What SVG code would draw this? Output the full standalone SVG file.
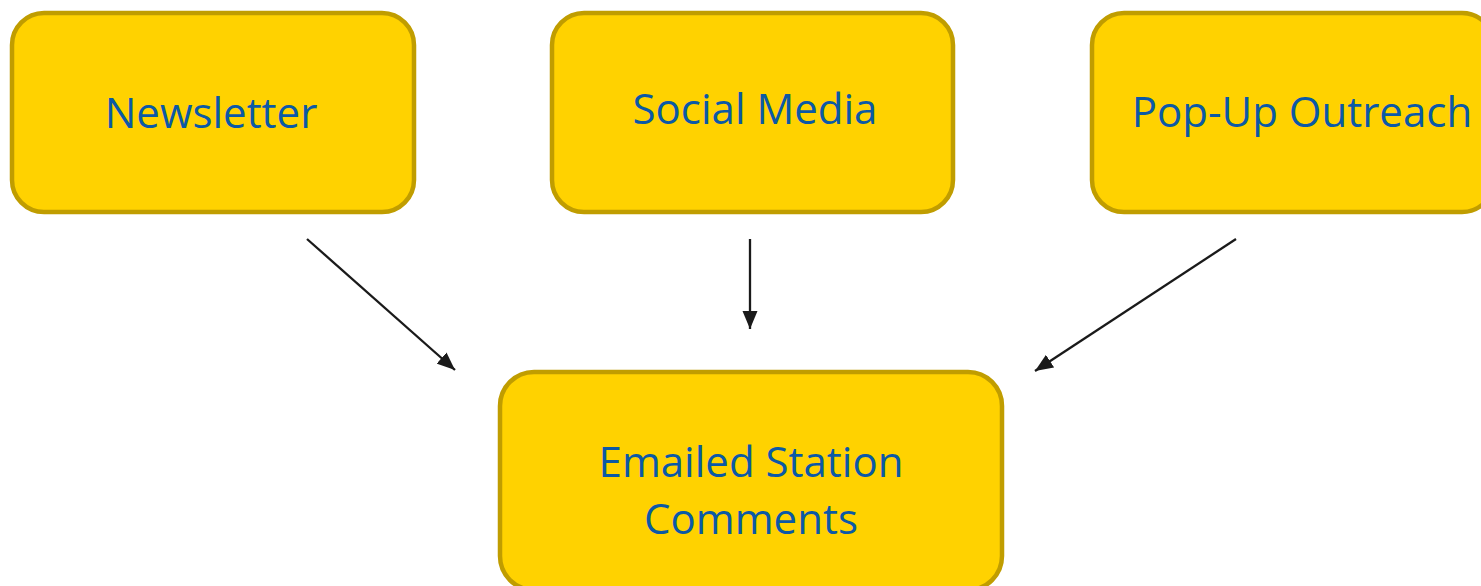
<svg xmlns="http://www.w3.org/2000/svg" width="1481" height="586" viewBox="0 0 1481 586">
  <style>
    .box { fill: #FFD200; stroke: #C09D00; stroke-width: 4.5; }
    .label { font-family: "Open Sans", "Liberation Sans", sans-serif; font-size: 42px; fill: #0B59A6; text-anchor: middle; }
    .conn { stroke: #1A1A1A; stroke-width: 2.3; fill: none; marker-end: url(#arrow); }
  </style>
  <defs>
    <marker id="arrow" markerUnits="userSpaceOnUse" markerWidth="20" markerHeight="16" refX="18" refY="8" orient="auto">
      <path d="M0,0.5 L18,8 L0,15.5 Z" fill="#1A1A1A"/>
    </marker>
  </defs>

  <rect width="1481" height="586" fill="#FFFFFF"/>

  <g id="node-newsletter">
    <rect class="box" x="12" y="13" width="402" height="199" rx="32" ry="32"/>
    <text class="label" x="211" y="128">Newsletter</text>
  </g>

  <g id="node-social-media">
    <rect class="box" x="552" y="13" width="401" height="199" rx="32" ry="32"/>
    <text class="label" x="755" y="124">Social Media</text>
  </g>

  <g id="node-popup-outreach">
    <rect class="box" x="1092" y="13" width="402" height="199" rx="32" ry="32"/>
    <text class="label" x="1302" y="127">Pop-Up Outreach</text>
  </g>

  <g id="node-emailed-comments">
    <rect class="box" x="500" y="372" width="502" height="218" rx="34" ry="34"/>
    <text class="label" x="751" y="477">Emailed Station</text>
    <text class="label" x="751" y="534">Comments</text>
  </g>

  <g id="connectors">
    <line class="conn" x1="307" y1="239" x2="455" y2="370"/>
    <line class="conn" x1="750" y1="239" x2="750" y2="329"/>
    <line class="conn" x1="1236" y1="239" x2="1035" y2="371"/>
  </g>
</svg>
